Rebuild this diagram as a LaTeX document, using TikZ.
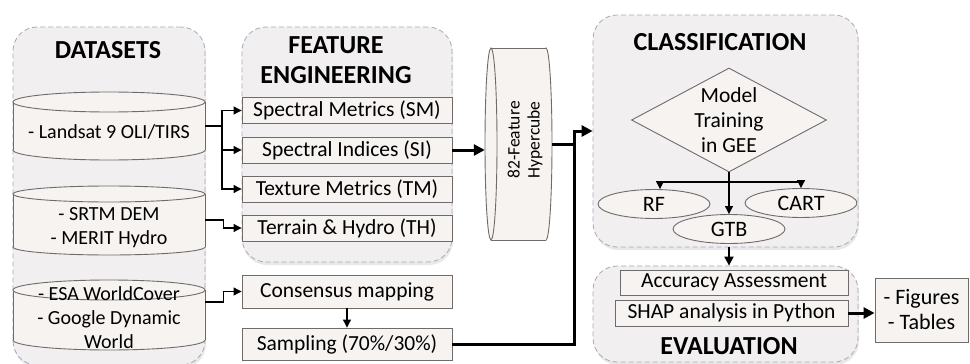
\documentclass[tikz,border=0pt]{standalone}
\usepackage{fontspec}
\setmainfont{Carlito}
\usetikzlibrary{arrows.meta,shapes.geometric,shadows}
\definecolor{panelfill}{RGB}{241,239,239}
\definecolor{boxfill}{RGB}{246,243,241}
\definecolor{boxline}{RGB}{112,107,107}
\definecolor{paneldash}{RGB}{168,168,188}
% vertical cylinder: xc, rx, ytop-centre, ybottom-centre, ry
\newcommand{\vcylinder}[5]{%
  \path[draw=boxline,fill=boxfill,line width=0.9pt] (#1,#4) ellipse [x radius=#2pt, y radius=#5pt];
  \fill[boxfill] ({#1-#2},#3) rectangle ({#1+#2},#4);
  \draw[boxline,line width=0.9pt] ({#1-#2},#3) -- ({#1-#2},#4) ({#1+#2},#3) -- ({#1+#2},#4);
  \path[draw=boxline,fill=boxfill,line width=0.9pt] (#1,#3) ellipse [x radius=#2pt, y radius=#5pt];
}
\begin{document}
\begin{tikzpicture}[x=1pt,y=-1pt,
  panel/.style={draw=paneldash, dash pattern=on 5pt off 3pt, fill=panelfill,
    rounded corners=24pt, line width=0.8pt, inner sep=0pt,
    drop shadow={opacity=0.18, shadow xshift=1pt, shadow yshift=-3pt}},
  box/.style={draw=boxline, fill=boxfill, line width=0.9pt, inner sep=0pt,
    font=\fontsize{21.5}{25}\selectfont, align=center},
  txt/.style={inner sep=0pt, font=\fontsize{20}{24}\selectfont, align=center},
  ttl/.style={inner sep=0pt, font=\fontsize{26}{30}\selectfont\bfseries, align=center},
  ellip/.style={ellipse, draw=boxline, fill=boxfill, line width=0.9pt, inner sep=0pt,
    minimum width=112pt, minimum height=29pt, font=\fontsize{22}{25}\selectfont},
  conn/.style={line width=1.1pt, -{Triangle[length=8pt,width=8pt]}},
  thickconn/.style={line width=3pt, -{Triangle[length=11pt,width=11pt]}},
  thickline/.style={line width=3pt}
]
\useasboundingbox (0,0) rectangle (970,364);

% ---------- panels ----------
\node[panel, minimum width=192pt, minimum height=338pt] (dsp) at (109,196) {};
\node[panel, minimum width=210pt, minimum height=235pt] (fep) at (347,144.5) {};
\node[panel, minimum width=265pt, minimum height=232pt] (clp) at (725.5,131) {};
\node[panel, minimum width=265pt, minimum height=96pt] (evp) at (725.5,314) {};

% ---------- titles ----------
\node[ttl] (tds) at (108,50) {DATASETS};
\node[ttl] (tfe) at (336,60) {FEATURE\\ENGINEERING};
\node[ttl] (tcl) at (720,42) {CLASSIFICATION};
\node[ttl] (tev) at (729,346) {EVALUATION};

% ---------- datasets cylinders ----------
\vcylinder{109}{96}{102}{150}{10}
\vcylinder{109}{96}{194}{247}{8}
\vcylinder{109}{96}{290}{340}{10}
\node[txt, minimum width=192pt] (d1) at (109,132) {- Landsat 9 OLI/TIRS};
\node[txt, minimum width=192pt] (d2) at (109,228) {- SRTM DEM\\- MERIT Hydro};
\node[txt, minimum width=192pt] (d3) at (109,318) {- ESA WorldCover\\- Google Dynamic\\World};

% ---------- feature engineering ----------
\node[box, minimum width=210pt, minimum height=26pt] (sm) at (347,110.5) {Spectral Metrics (SM)};
\node[box, minimum width=210pt, minimum height=26pt] (si) at (347,150) {Spectral Indices (SI)};
\node[box, minimum width=210pt, minimum height=26pt] (tm) at (347,189) {Texture Metrics (TM)};
\node[box, minimum width=210pt, minimum height=26pt] (th) at (347,228) {Terrain \& Hydro (TH)};
\node[box, minimum width=210pt, minimum height=33pt] (cm) at (347,291.5) {Consensus mapping};
\node[box, minimum width=210pt, minimum height=32pt] (sp) at (347,344) {Sampling (70\%/30\%)};

% ---------- hypercube ----------
\path[draw=boxline,fill=boxfill,line width=0.9pt] (546,144) ellipse [x radius=6pt, y radius=96pt];
\fill[boxfill] (491,48) rectangle (546,240);
\draw[boxline,line width=0.9pt] (491,48) -- (546,48) (491,240) -- (546,240);
\path[draw=boxline,fill=boxfill,line width=0.9pt] (491,144) ellipse [x radius=6pt, y radius=96pt];
\node[inner sep=0pt, minimum width=67pt, minimum height=192pt] (hc) at (518.5,144) {};
\node[inner sep=0pt, rotate=90, align=center, font=\fontsize{17.5}{20}\selectfont] (hct) at (525,140) {82-Feature\\Hypercube};

% ---------- classification ----------
\node[diamond, draw=boxline, fill=boxfill, line width=0.9pt, inner sep=0pt,
      minimum width=195pt, minimum height=104pt] (dia) at (729,120) {};
\node[txt, font=\fontsize{21.5}{25}\selectfont] (diat) at (729,120) {Model\\Training\\in GEE};
\node[ellip] (rf) at (654,204) {RF};
\node[ellip] (cart) at (801,203) {CART};
\node[ellip] (gtb) at (729,229) {GTB};

% ---------- evaluation ----------
\node[box, minimum width=228pt, minimum height=25pt] (acc) at (734,282.5) {Accuracy Assessment};
\node[box, minimum width=233pt, minimum height=26pt] (shap) at (731.5,313) {SHAP analysis in Python};
\node[box, minimum width=93pt, minimum height=64pt, font=\fontsize{22}{25}\selectfont] (out) at (921.5,310) {- Figures\\- Tables};

% ---------- connectors ----------
\coordinate (b1) at (222,126);
\draw[line width=1.1pt] ([yshift=6pt]d1.east) -- (b1);
\draw[conn] (b1) |- (sm.west);
\draw[conn] (b1) |- (si.west);
\draw[conn] (b1) |- (tm.west);
\draw[conn] ([yshift=8pt]d2.east) -- ++(18,0) |- (th.west);
\draw[conn] ([yshift=16pt]d3.east) -- ++(18,0) |- (cm.west);
\draw[conn] (cm.south) -- (sp.north);

\draw[thickconn] (si.east) -- (si.east -| hc.west);
\coordinate (jn) at (574,131);
\draw[thickline] (hc.east) -- (hc.east -| jn);
\draw[thickconn] (sp.east) -| (jn) -- (jn -| clp.west);

\coordinate (br) at (729,182);
\draw[conn] (dia.south) -- (gtb.north);
\draw[conn] (br) -| ([xshift=6pt]rf.north);
\draw[conn] (br) -| (cart.north);
\draw[line width=2pt, -{Triangle[length=9pt,width=9pt]}] (clp.south -| gtb.south) -- (evp.north -| gtb.south);
\draw[thickconn] (shap.east) -- (out.west |- shap.east);
\end{tikzpicture}
\end{document}
